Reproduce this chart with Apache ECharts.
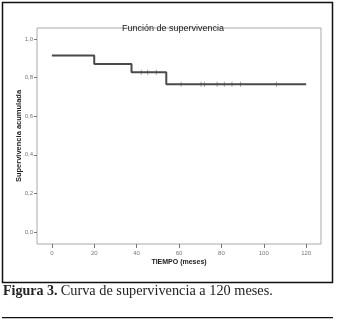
<!DOCTYPE html>
<html>
<head>
<meta charset="utf-8">
<script src="https://cdn.jsdelivr.net/npm/echarts@6/dist/echarts.min.js"></script>
<style>
html, body { margin: 0; padding: 0; background: #fff; }
#chart { width: 338px; height: 324px; }
</style>
</head>
<body>
<div id="chart"></div>
<script>
// Kaplan-Meier step points: [month, cumulative survival]
const stepMonths = [0, 20, 37.6, 54, 120];
const stepSurvival = [0.914, 0.871, 0.828, 0.766, 0.766];

// Censored observations (months) and the survival level they sit on
const censorMonths = [42.2, 45.2, 49.3, 61, 70.4, 72, 78, 81.4, 85, 89, 106];
const censorSurvival = [0.828, 0.828, 0.828, 0.766, 0.766, 0.766, 0.766, 0.766, 0.766, 0.766, 0.766];

// Axis ticks
const xTicks = [0, 20, 40, 60, 80, 100, 120];
const yTicks = [0, 0.2, 0.4, 0.6, 0.8, 1.0];

const stepData = stepMonths.map((m, i) => [m, stepSurvival[i]]);
const censorData = censorMonths.map((m, i) => [m, censorSurvival[i]]);

const chart = echarts.init(document.getElementById('chart'), null, { renderer: 'canvas' });

const tickLabel = { color: '#777', fontSize: 6, fontFamily: 'Liberation Sans' };

chart.setOption({
  animation: false,
  backgroundColor: '#fff',
  title: {
    text: 'Función de supervivencia',
    left: 168, top: 19, textAlign: 'center',
    textStyle: { fontSize: 9, fontWeight: 'normal', color: '#222', fontFamily: 'Liberation Sans' }
  },
  grid: {
    left: 37, top: 28, width: 284, height: 216,
    show: true, borderColor: '#aaa', borderWidth: 1, backgroundColor: 'transparent'
  },
  xAxis: {
    type: 'value', min: -7, max: 127,
    name: 'TIEMPO (meses)', nameLocation: 'middle', nameGap: 15, nameMoveOverlap: false,
    nameTextStyle: { fontSize: 7, fontWeight: 'bold', color: '#222', fontFamily: 'Liberation Sans' },
    axisLine: { show: false, onZero: false },
    splitLine: { show: false },
    axisTick: { show: true, length: 4, inside: false, customValues: xTicks, lineStyle: { color: '#777' } },
    axisLabel: Object.assign({ customValues: xTicks, margin: 6 }, tickLabel)
  },
  yAxis: {
    type: 'value', min: -0.062, max: 1.057,
    name: 'Supervivencia acumulada', nameLocation: 'middle', nameGap: 14, nameRotate: 90, nameMoveOverlap: false,
    nameTextStyle: { fontSize: 7.5, fontWeight: 'bold', color: '#222', fontFamily: 'Liberation Sans' },
    axisLine: { show: false, onZero: false },
    splitLine: { show: false },
    axisTick: { show: true, length: 3, inside: false, customValues: yTicks, lineStyle: { color: '#777' } },
    axisLabel: Object.assign({
      customValues: yTicks, margin: 4,
      formatter: v => v.toFixed(1).replace('.', ',')
    }, tickLabel)
  },
  series: [
    {
      type: 'line', step: 'end', data: stepData, symbol: 'none',
      lineStyle: { color: '#4a4a4a', width: 2 }
    },
    {
      type: 'scatter', data: censorData, symbol: 'rect', symbolSize: [1, 5],
      itemStyle: { color: '#888' }
    }
  ],
  graphic: [
    {
      type: 'rect', silent: true,
      shape: { x: 2.5, y: 2.5, width: 330, height: 280 },
      style: { fill: 'none', stroke: '#111', lineWidth: 1.5 }
    },
    {
      type: 'text', silent: true, left: 3, top: 284,
      style: {
        text: '{b|Figura 3.} {r|Curva de supervivencia a 120 meses.}',
        rich: {
          b: { fontFamily: 'Liberation Sans Narrow', fontWeight: 'bold', fontSize: 14, fill: '#222' },
          r: { fontFamily: 'Liberation Serif', fontSize: 14.3, fill: '#222' }
        }
      }
    },
    {
      type: 'rect', silent: true,
      shape: { x: 2, y: 317, width: 331, height: 1.2 },
      style: { fill: '#111' }
    }
  ]
});
</script>
</body>
</html>
